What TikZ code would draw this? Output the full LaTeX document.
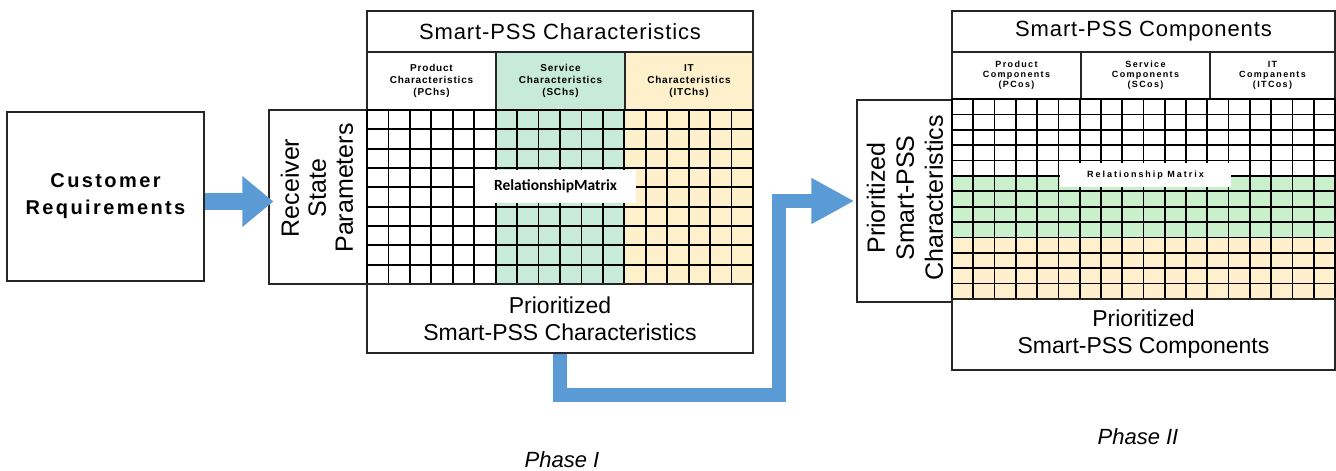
\documentclass[tikz,border=0pt]{standalone}
\usepackage{fontspec}
\setmainfont{Liberation Sans}
\newfontfamily\calibfont{Carlito}
\usetikzlibrary{arrows.meta}

\definecolor{flowblue}{HTML}{5B9BD5}
\definecolor{svcgreen}{HTML}{C8EBD9}
\definecolor{ityellow}{HTML}{FDF0CA}
\definecolor{rowgreen}{HTML}{C9F0CB}
\definecolor{rowyellow}{HTML}{FFEFCC}
\definecolor{edgegray}{HTML}{262626}

\begin{document}
\begin{tikzpicture}[x=1pt,y=-1pt,
  box/.style={draw=edgegray, line width=1.3pt, inner sep=0pt, align=center, fill=white},
  gridline/.style={draw=black, line width=1.7pt},
  titletext/.style={font=\fontsize{22}{27}\selectfont\addfontfeatures{LetterSpace=4}},
  prio/.style={font=\fontsize{23}{27}\selectfont},
  sidetext/.style={rotate=90, align=center, inner sep=0pt},
  subhead/.style={font=\fontsize{10}{12}\selectfont\bfseries\addfontfeatures{LetterSpace=8}},
  subheadr/.style={font=\fontsize{9}{10}\selectfont\bfseries\addfontfeatures{LetterSpace=15}},
  flow/.style={draw=flowblue, line join=miter}
]
\useasboundingbox (0,0) rectangle (1336,471);

% ---------- Customer requirements ----------
\node (cust) [box, minimum width=197pt, minimum height=169pt,
  font=\fontsize{20}{27}\selectfont\bfseries\addfontfeatures{LetterSpace=12}]
  at (105.5,196.5) {Customer\\Requirements};

% ---------- Phase I matrix ----------
\node (recv) [box, minimum width=98pt, minimum height=174pt] at (318,197) {};
\node (recvtext) [sidetext, font=\fontsize{25}{27}\selectfont] at (317,188)
  {Receiver\\State\\Parameters};

\node (ltitle) [box, titletext, minimum width=386pt, minimum height=41pt]
  at (560,31.5) {Smart-PSS Characteristics};
\node (lsubp) [box, subhead, minimum width=129pt, minimum height=58pt]
  at (431.5,81) {Product\\Characteristics\\(PChs)};
\node (lsubs) [box, subhead, fill=svcgreen, minimum width=129pt, minimum height=58pt]
  at (560.5,81) {Service\\Characteristics\\(SChs)};
\node (lsubi) [box, subhead, fill=ityellow, minimum width=128pt, minimum height=58pt]
  at (689,81) {IT\\Characteristics\\(ITChs)};

% column bands and cell grid
\fill[svcgreen] (496,110) rectangle (625,284);
\fill[ityellow] (625,110) rectangle (753,284);
\foreach \i in {0,...,18}
  \draw[gridline] ({367+\i*386/18},110) -- ({367+\i*386/18},284);
\foreach \j in {0,...,9}
  \draw[gridline] (367,{110+\j*174/9}) -- (753,{110+\j*174/9});

\node (lrel) [fill=white, inner sep=0pt, minimum width=161pt, minimum height=33pt,
  font=\fontsize{15.5}{18}\selectfont\calibfont\bfseries]
  at (555.5,186.5) {RelationshipMatrix};

\node (lbot) [box, prio, minimum width=386pt, minimum height=69pt]
  at (560,318.5) {Prioritized\\Smart-PSS Characteristics};

% ---------- Phase II matrix ----------
\node (rprio) [box, minimum width=95pt, minimum height=202pt] at (904.5,201) {};
\node (rpriotext) [sidetext, font=\fontsize{25}{29}\selectfont] at (905,198)
  {Prioritized\\Smart-PSS\\Characteristics};

\node (rtitle) [box, titletext, minimum width=383pt, minimum height=41pt]
  at (1143.5,31.5) {Smart-PSS Components};
\node (rsubp) [box, subheadr, minimum width=129pt, minimum height=47pt]
  at (1016.5,75.5) {Product\\Components\\(PCos)};
\node (rsubs) [box, subheadr, minimum width=129pt, minimum height=47pt]
  at (1145.5,75.5) {Service\\Components\\(SCos)};
\node (rsubi) [box, subheadr, minimum width=125pt, minimum height=47pt]
  at (1272.5,75.5) {IT\\Companents\\(ITCos)};

% row bands and cell grid
\fill[rowgreen] (952,{99+5*200/13}) rectangle (1335,{99+9*200/13});
\fill[rowyellow] (952,{99+9*200/13}) rectangle (1335,299);
\foreach \i in {0,...,18}
  \draw[gridline] ({952+\i*383/18},99) -- ({952+\i*383/18},299);
\foreach \j in {0,...,13}
  \draw[gridline] (952,{99+\j*200/13}) -- (1335,{99+\j*200/13});

\node (rrel) [fill=white, inner sep=0pt, minimum width=171pt, minimum height=24pt,
  font=\fontsize{9}{10}\selectfont\bfseries\addfontfeatures{LetterSpace=22}]
  at (1145.5,175) {Relationship Matrix};

\node (rbot) [box, prio, minimum width=383pt, minimum height=71pt]
  at (1143.5,334.5) {Prioritized\\Smart-PSS Components};

% ---------- phase captions ----------
\node (ph1) [anchor=base, font=\fontsize{22}{26}\selectfont\itshape] at (562,467) {Phase I};
\node (ph2) [anchor=base, font=\fontsize{22}{26}\selectfont\itshape] at (1138,444) {Phase II};

% ---------- flow arrows ----------
\draw[flow, line width=17pt, -{Triangle[width=49pt,length=31pt]}]
  ([yshift=-5pt]cust.east) -- ([xshift=5pt,yshift=-4.5pt]recv.west);

\coordinate (turn) at (779,395);
\draw[flow, line width=14pt, -{Triangle[width=43pt,length=43pt]}]
  (lbot.south) |- (turn) |- ([xshift=-2pt]rprio.west);
\end{tikzpicture}
\end{document}
